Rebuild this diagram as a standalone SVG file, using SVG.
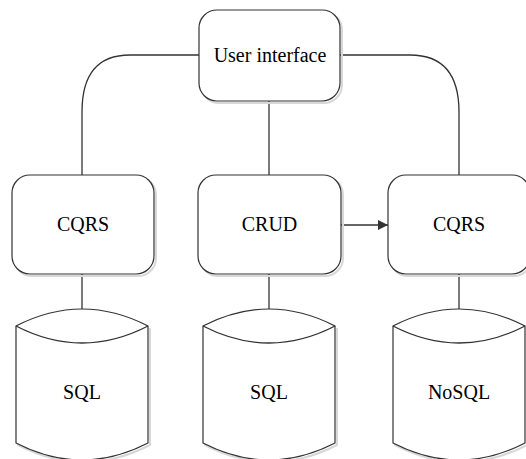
<svg xmlns="http://www.w3.org/2000/svg" width="526" height="459" viewBox="0 0 526 459">
  <defs>
    <style>
      .box { fill: #ffffff; stroke: #333333; stroke-width: 1.2; }
      .shadow { fill: none; stroke: #d8d8d8; stroke-width: 2; }
      .link { fill: none; stroke: #333333; stroke-width: 1.3; }
      .label { font-family: "Liberation Serif", "Times New Roman", serif; font-size: 20px; fill: #000000; text-anchor: middle; }
    </style>
    <marker id="arrow" viewBox="0 0 10 10" refX="10" refY="5" markerWidth="11" markerHeight="10" markerUnits="userSpaceOnUse" orient="auto">
      <path d="M0,0 L10,5 L0,10 Z" fill="#333333"/>
    </marker>
    <!-- database cylinder outline, origin at its top-left side corner -->
    <g id="cyl">
      <path class="shadow" d="M2,2 L2,119 Q68,153 134,119 L134,2"/>
      <path class="box" d="M0,0 Q66,-34 132,0 L132,117 Q66,151 0,117 Z"/>
      <path class="link" d="M0,0 Q66,34 132,0"/>
    </g>
  </defs>

  <!-- connectors -->
  <g id="connectors">
    <path class="link" d="M199,55 L130,55 C96,55 82,76 82,112 L82,175"/>
    <path class="link" d="M340,55 L410,55 C445,55 459,76 459,112 L459,175"/>
    <path class="link" d="M269,101 L269,175"/>
    <path class="link" d="M82,274 L82,309"/>
    <path class="link" d="M269,274 L269,309"/>
    <path class="link" d="M459,274 L459,309"/>
    <path class="link" d="M341,225 L388,225" marker-end="url(#arrow)"/>
  </g>

  <g id="ui">
    <rect class="shadow" x="201" y="12" width="141" height="91" rx="18"/>
    <rect class="box" x="199" y="10" width="141" height="91" rx="18"/>
    <text class="label" x="270" y="62">User interface</text>
  </g>

  <g id="cqrs-left">
    <rect class="shadow" x="14" y="177" width="142" height="99" rx="18"/>
    <rect class="box" x="12" y="175" width="142" height="99" rx="18"/>
    <text class="label" x="83" y="231">CQRS</text>
  </g>

  <g id="crud">
    <rect class="shadow" x="200" y="177" width="143" height="99" rx="18"/>
    <rect class="box" x="198" y="175" width="143" height="99" rx="18"/>
    <text class="label" x="269.5" y="231">CRUD</text>
  </g>

  <g id="cqrs-right">
    <rect class="shadow" x="390" y="177" width="142" height="99" rx="18"/>
    <rect class="box" x="388" y="175" width="142" height="99" rx="18"/>
    <text class="label" x="459" y="231">CQRS</text>
  </g>

  <g id="db-sql-left">
    <use href="#cyl" x="16" y="326"/>
    <text class="label" x="82" y="399">SQL</text>
  </g>

  <g id="db-sql-middle">
    <use href="#cyl" x="203" y="326"/>
    <text class="label" x="269" y="399">SQL</text>
  </g>

  <g id="db-nosql">
    <use href="#cyl" x="393" y="326"/>
    <text class="label" x="459" y="399">NoSQL</text>
  </g>
</svg>
